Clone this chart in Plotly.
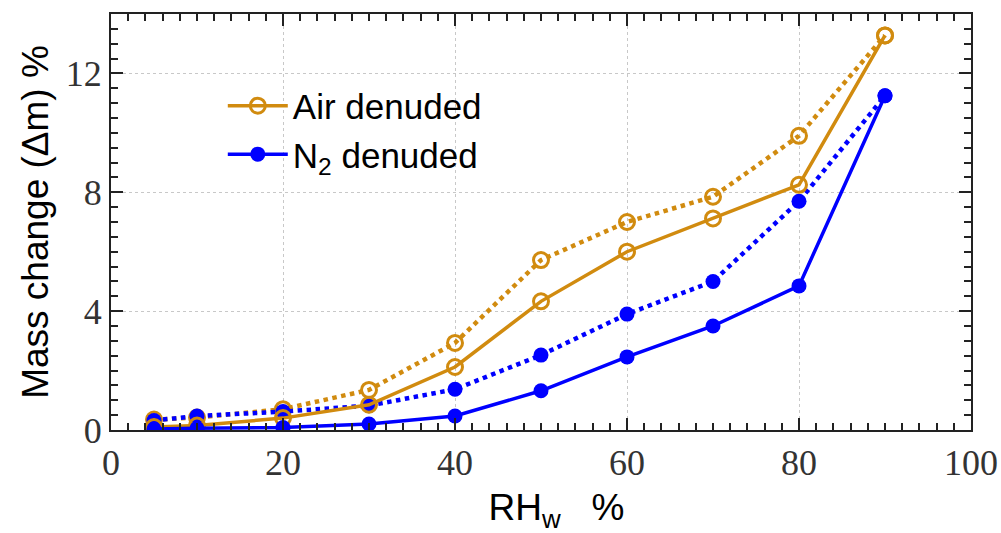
import plotly.graph_objects as go

rh = [5, 10, 20, 30, 40, 50, 60, 70, 80, 90]
air_solid = [0.1, 0.15, 0.4, 0.85, 2.12, 4.33, 6.0, 7.12, 8.25, 13.28]
air_dotted = [0.35, 0.42, 0.7, 1.35, 2.93, 5.72, 7.0, 7.85, 9.9, 13.28]
n2_solid = [0.03, 0.06, 0.08, 0.2, 0.47, 1.32, 2.46, 3.5, 4.85, 11.25]
n2_dotted = [0.32, 0.47, 0.62, 0.82, 1.37, 2.52, 3.9, 5.0, 7.7, 11.25]

orange = "#D18B0F"
blue = "#0000FF"

fig = go.Figure()
fig.add_trace(go.Scatter(x=rh, y=air_dotted, mode="lines+markers", showlegend=False,
                         line=dict(color=orange, width=4.5, dash="dot"),
                         marker=dict(symbol="circle-open", size=15, color=orange, line=dict(width=3))))
fig.add_trace(go.Scatter(x=rh, y=n2_dotted, mode="lines+markers", showlegend=False,
                         line=dict(color=blue, width=4.5, dash="dot"),
                         marker=dict(symbol="circle", size=15, color=blue)))
fig.add_trace(go.Scatter(x=rh, y=air_solid, mode="lines+markers", name="Air denuded",
                         line=dict(color=orange, width=3.5),
                         marker=dict(symbol="circle-open", size=15, color=orange, line=dict(width=3))))
fig.add_trace(go.Scatter(x=rh, y=n2_solid, mode="lines+markers", name="N<sub>2</sub> denuded",
                         line=dict(color=blue, width=3.5),
                         marker=dict(symbol="circle", size=15, color=blue)))

tickfont = dict(family="Liberation Serif", size=36, color="#333333")
fig.update_layout(
    width=1001, height=533,
    margin=dict(l=111, r=30, t=14, b=103, autoexpand=False),
    paper_bgcolor="white", plot_bgcolor="white",
    font=dict(family="Arial", color="black"),
    legend=dict(x=0.13, y=0.85, xanchor="left", yanchor="top", bgcolor="rgba(0,0,0,0)",
                font=dict(family="Arial", size=35, color="black"), tracegroupgap=0,
                itemwidth=60),
    xaxis=dict(range=[0, 100], tickvals=[0, 20, 40, 60, 80, 100], ticks="inside", ticklen=12,
               tickwidth=2, tickcolor="#222", showline=True, linecolor="#222", linewidth=2,
               mirror="allticks", showgrid=True, gridcolor="#C8C8C8", griddash="dot", gridwidth=1,
               tickfont=tickfont, zeroline=False, automargin=False,
               minor=dict(dtick=2, ticks="inside", ticklen=7, tickwidth=1.5, tickcolor="#222", showgrid=False),
               title=dict(text="&nbsp;&nbsp;&nbsp;RH<sub>w</sub>&nbsp;&nbsp;&nbsp;%", font=dict(family="Arial", size=37, color="black"), standoff=14)),
    yaxis=dict(range=[0, 14], tickvals=[0, 4, 8, 12], ticks="inside", ticklen=12,
               tickwidth=2, tickcolor="#222", showline=True, linecolor="#222", linewidth=2,
               mirror="allticks", showgrid=True, gridcolor="#C8C8C8", griddash="dot", gridwidth=1,
               tickfont=tickfont, zeroline=False, automargin=False,
               minor=dict(dtick=0.5, ticks="inside", ticklen=7, tickwidth=1.5, tickcolor="#222", showgrid=False),
               title=dict(text="Mass change (Δm) %", font=dict(family="Arial", size=37, color="black"), standoff=6)),
)

fig.write_html("out.html")
